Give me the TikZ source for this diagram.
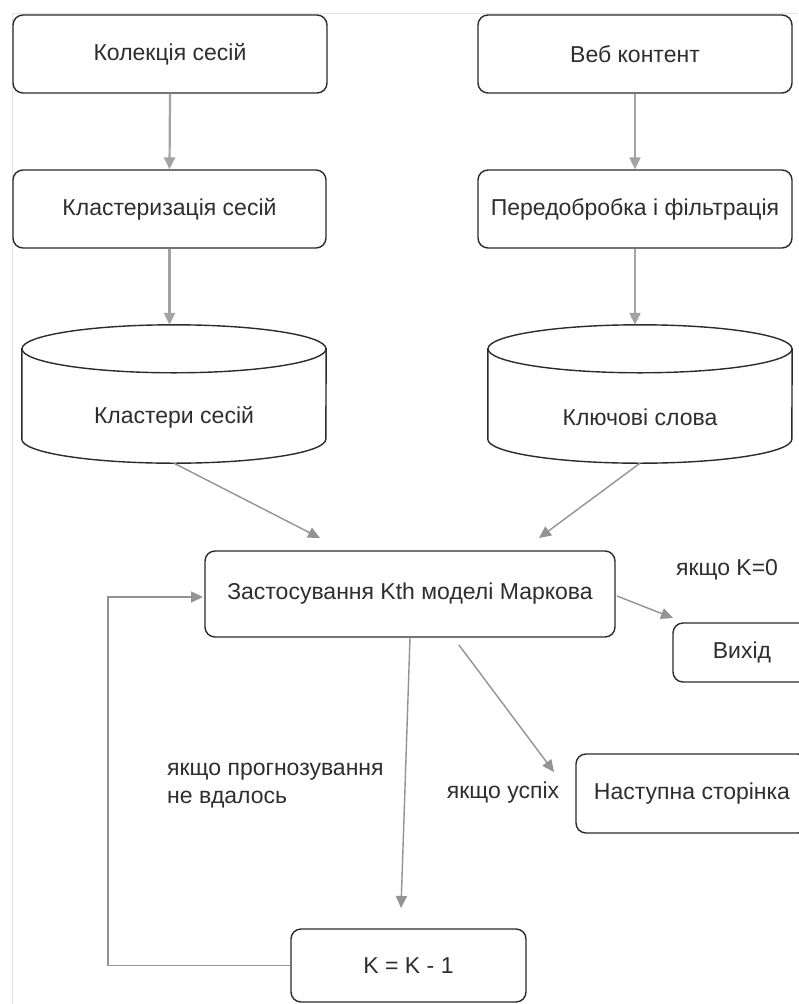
\documentclass[tikz,border=0pt]{standalone}
\usepackage{fontspec}
\setmainfont{Liberation Sans}
\usetikzlibrary{arrows.meta}
\definecolor{txt}{HTML}{2e2e2e}
\definecolor{brd}{HTML}{2b2b2b}
\definecolor{arc}{HTML}{939393}
\definecolor{arcl}{HTML}{a3a3a3}
\definecolor{frm}{HTML}{e4e4e4}
\newcommand\fsz{\fontsize{23}{28}\selectfont}
\tikzset{
  box/.style={draw=brd, line width=1.4pt, rounded corners=10pt, fill=white, inner sep=0pt, text=txt, font=\fsz},
  arr/.style={draw=arcl, line width=2.2pt, -{Triangle[length=12pt,width=11pt]}},
  thinarr/.style={draw=arc, line width=1.4pt, -{Triangle[length=12pt,width=11pt]}},
  lbl/.style={text=txt, font=\fsz, inner sep=0pt},
  cylbox/.style={inner sep=0pt, minimum width=304pt, minimum height=138pt},
  cylline/.style={draw=brd, line width=1.4pt, fill=white}
}
\begin{document}
\begin{tikzpicture}[x=1pt,y=-1pt]
\useasboundingbox (0,0) rectangle (798,1004);
\fill[white] (0,0) rectangle (798,1004);
\draw[frm, line width=1pt] (798,13) -- (12,13) -- (12,1004);

% top boxes
\node[box, minimum width=314pt, minimum height=78pt] (b1) at (170,54) {Колекція сесій};
\node[box, minimum width=314pt, minimum height=78pt] (b2) at (635,54) {Веб контент};
\node[box, minimum width=313pt, minimum height=78pt] (b3) at (169.5,209) {Кластеризація сесій};
\node[box, minimum width=314pt, minimum height=78pt] (b4) at (635,209) {Передобробка і фільтрація};

% cylinders
\node[cylbox] (c1) at (174,394) {};
\draw[cylline] ([yshift=-24pt]c1.north west) -- ([yshift=24pt]c1.south west)
  arc[start angle=180, end angle=360, x radius=152pt, y radius=24pt]
  -- ([yshift=-24pt]c1.north east) -- cycle;
\draw[cylline] ([yshift=-24pt]c1.north) ellipse [x radius=152pt, y radius=24pt];
\node[lbl] (c1t) at (174,417) {Кластери сесій};

\node[cylbox] (c2) at (640,394) {};
\draw[cylline] ([yshift=-24pt]c2.north west) -- ([yshift=24pt]c2.south west)
  arc[start angle=180, end angle=360, x radius=152pt, y radius=24pt]
  -- ([yshift=-24pt]c2.north east) -- cycle;
\draw[cylline] ([yshift=-24pt]c2.north) ellipse [x radius=152pt, y radius=24pt];
\node[lbl] (c2t) at (640,417) {Ключові слова};

% middle and lower boxes
\node[box, minimum width=410pt, minimum height=86pt] (m) at (410,594) {Застосування Kth моделі Маркова};
\node[box, minimum width=138pt, minimum height=59pt] (ex) at (742,652.5) {Вихід};
\node[box, minimum width=232pt, minimum height=79pt] (nx) at (692,793.5) {Наступна сторінка};
\node[box, minimum width=235pt, minimum height=73pt] (k) at (408.5,965.5) {K = K - 1};

% labels
\node[lbl] (l0) at (727,570) {якщо K=0};
\node[lbl] (ls) at (503,793) {якщо успіх};
\node[lbl, anchor=west, align=left] (lf) at (167,786) {якщо прогнозування\\не вдалось};

% coordinates for free ends
\coordinate (t1) at (320,538);
\coordinate (t2) at (539,538);
\coordinate (mr) at (617,596);
\coordinate (et) at (673,618);
\coordinate (ms) at (459,645);
\coordinate (nt) at (554,772);
\coordinate (kt) at (401,908);
\coordinate (lp) at (108,597);
\coordinate (mt) at (203,597);

% connectors
\draw[arr] (b1.south) -- (b3.north);
\draw[arr] (b2.south) -- (b4.north);
\draw[arr] (b3.south) -- (b3.south |- c1.north);
\draw[arr] (b4.south) -- (b4.south |- c2.north);
\draw[thinarr] (c1.south) -- (t1);
\draw[thinarr] (c2.south) -- (t2);
\draw[thinarr] (mr) -- (et);
\draw[thinarr] (ms) -- (nt);
\draw[thinarr] (m.south) -- (kt);
\draw[thinarr] (k.west) -| (lp) -- (mt);
\end{tikzpicture}
\end{document}
